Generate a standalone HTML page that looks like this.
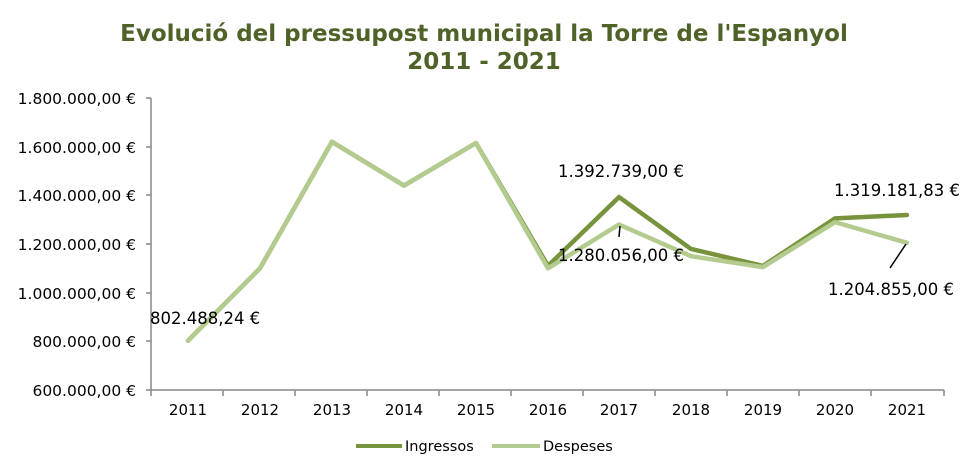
<!DOCTYPE html>
<html><head><meta charset="utf-8"><style>
body{margin:0;background:#fff;}
svg{display:block;font-family:"DejaVu Sans","Liberation Sans",sans-serif;}
</style></head><body>
<svg width="968" height="474" viewBox="0 0 968 474">
<text x="484" y="41" text-anchor="middle" font-size="23" font-weight="bold" fill="#4F6228">Evolució del pressupost municipal la Torre de l'Espanyol</text>
<text x="484" y="69" text-anchor="middle" font-size="23" font-weight="bold" fill="#4F6228">2011 - 2021</text>
<g stroke="#878787" stroke-width="1.5" fill="none">
<line x1="151" y1="98" x2="151" y2="390"/>
<line x1="151" y1="390" x2="944" y2="390"/>
<path d="M146 98H151M146 147H151M146 195H151M146 244H151M146 293H151M146 341H151M146 390H151"/>
<path d="M151 390V396M223 390V396M295 390V396M367 390V396M439 390V396M511 390V396M583 390V396M655 390V396M727 390V396M799 390V396M871 390V396M944 390V396"/>
</g>
<g font-size="15.5" fill="#000" text-anchor="end">
<text x="136" y="104">1.800.000,00 €</text>
<text x="136" y="153">1.600.000,00 €</text>
<text x="136" y="201">1.400.000,00 €</text>
<text x="136" y="250">1.200.000,00 €</text>
<text x="136" y="299">1.000.000,00 €</text>
<text x="136" y="347">800.000,00 €</text>
<text x="136" y="396">600.000,00 €</text>
</g>
<g font-size="15" fill="#000" text-anchor="middle">
<text x="188" y="415">2011</text><text x="260" y="415">2012</text><text x="332" y="415">2013</text>
<text x="404" y="415">2014</text><text x="476" y="415">2015</text><text x="548" y="415">2016</text>
<text x="619" y="415">2017</text><text x="691" y="415">2018</text><text x="763" y="415">2019</text>
<text x="835" y="415">2020</text><text x="907" y="415">2021</text>
</g>
<polyline fill="none" stroke="#77933C" stroke-width="4.5" stroke-linejoin="round" stroke-linecap="round"
 points="188,340.7 260,268.3 332,141.8 404,185.6 476,143 548,265.9 619,197.1 691,248.9 763,265.9 835,218.4 907,215"/>
<polyline fill="none" stroke="#B3CB8E" stroke-width="4.5" stroke-linejoin="round" stroke-linecap="round"
 points="188,340.7 260,268.3 332,141.8 404,185.6 476,143 548,268.3 619,224.5 691,256.2 763,267.1 835,222.1 907,242.8"/>
<g stroke="#000" stroke-width="1.5">
<line x1="620" y1="226" x2="619" y2="237"/>
<line x1="906" y1="244" x2="890" y2="268"/>
</g>
<g font-size="16.5" fill="#000">
<text x="150" y="324">802.488,24 €</text>
<text x="558" y="177">1.392.739,00 €</text>
<text x="558" y="261">1.280.056,00 €</text>
<text x="834" y="196">1.319.181,83 €</text>
<text x="828" y="295">1.204.855,00 €</text>
</g>
<line x1="356" y1="446" x2="402" y2="446" stroke="#77933C" stroke-width="4"/>
<text x="405" y="451" font-size="14.5">Ingressos</text>
<line x1="492" y1="446" x2="540" y2="446" stroke="#B3CB8E" stroke-width="4"/>
<text x="543" y="451" font-size="14.5">Despeses</text>
</svg>
</body></html>
